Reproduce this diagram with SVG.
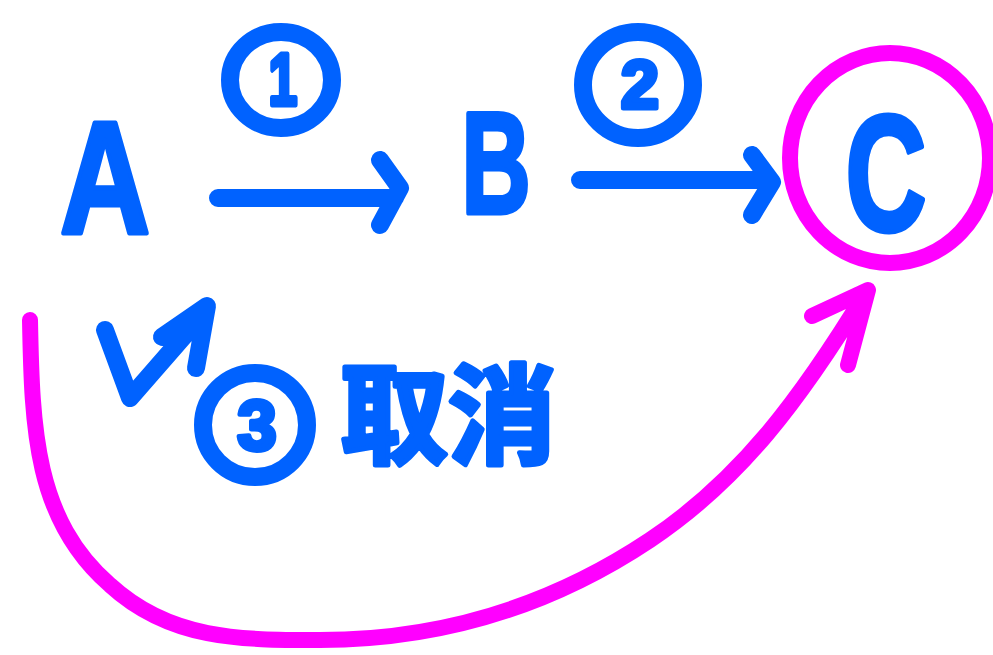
<svg xmlns="http://www.w3.org/2000/svg" width="993" height="655" viewBox="0 0 993 655">
<style>
.b{fill:none;stroke:#0062FF;stroke-width:18;stroke-linecap:round;stroke-linejoin:round}
.p{fill:none;stroke:#FF00FF;stroke-width:16;stroke-linecap:round;stroke-linejoin:round}
.t{fill:#0062FF;stroke:#0062FF;stroke-width:5;stroke-linejoin:round;font-family:"Liberation Sans","Noto Sans CJK SC",sans-serif;font-weight:bold;text-anchor:middle}
</style>
<rect width="993" height="655" fill="#FFFFFF"/>
<g id="nodeA"><text class="t" x="0" y="233" font-size="160" transform="translate(105,0) scale(0.78,1)">A</text></g>
<g id="nodeB"><text class="t" x="0" y="213" font-size="145" transform="translate(496,0) scale(0.66,1)">B</text></g>
<g id="nodeC">
<ellipse cx="890" cy="158" rx="100" ry="105" stroke="#FF00FF" stroke-width="16" fill="none"/>
<text class="t" x="0" y="230" font-size="165" transform="translate(886,0) scale(0.68,1)">C</text>
</g>
<g id="label1">
<ellipse cx="281" cy="80" rx="51" ry="48" class="b" stroke-width="13"/>
<text class="t" x="0" y="105" font-size="74" transform="translate(283,0) scale(0.7,1)">1</text>
</g>
<g id="label2">
<ellipse cx="638" cy="85" rx="55" ry="53" class="b" stroke-width="13"/>
<text class="t" x="640" y="108" font-size="68">2</text>
</g>
<g id="label3">
<ellipse cx="255" cy="425" rx="52" ry="52" class="b" stroke-width="13"/>
<text class="t" x="257" y="450" font-size="70">3</text>
<text class="t" x="448" y="455" font-size="108" font-family="'Noto Sans CJK SC',sans-serif">取消</text>
</g>
<g id="connectors">
<path class="b" d="M218,198 L395,198 M380,160 L400,188 L380,225"/>
<path class="b" d="M580,180 L770,180 M752,155 L772,182 L752,215"/>
<path class="b" d="M105,330 L130,398 L205,312 M162,337 L207,306 L196,368"/>
<path class="p" d="M30,320 C32,430 35,520 110,585 C170,640 240,640 320,640 C450,640 560,600 650,540 C740,480 800,400 866,292 M812,316 L868,290 L848,365"/>
</g>
</svg>
